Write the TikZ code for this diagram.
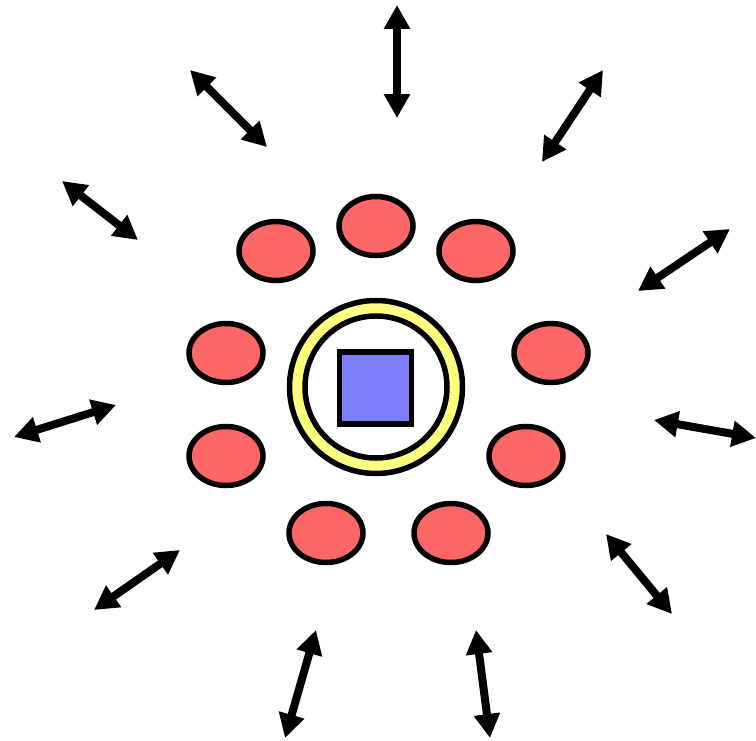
\documentclass[tikz,border=0pt]{standalone}
\usetikzlibrary{arrows.meta,shapes.geometric}
\definecolor{redfill}{HTML}{FF6666}
\definecolor{bluefill}{HTML}{8080FF}
\definecolor{yellowfill}{HTML}{FFFF80}
\begin{document}
\begin{tikzpicture}[x=1bp,y=-1bp,
  blob/.style={ellipse,draw=black,fill=redfill,line width=5.5bp,minimum width=74bp,minimum height=59bp,inner sep=0pt},
  ringout/.style={circle,draw=black,fill=yellowfill,line width=5.5bp,minimum size=173bp,inner sep=0pt},
  ringin/.style={circle,draw=black,fill=white,line width=5.5bp,minimum size=142bp,inner sep=0pt},
  core/.style={rectangle,draw=black,fill=bluefill,line width=5.5bp,minimum size=72bp,inner sep=0pt},
  dart/.style={line width=8bp,{Triangle[width=25bp,length=24bp]}-{Triangle[width=25bp,length=24bp]}}]
\useasboundingbox (0,0) rectangle (756,741);
\node[ringout] (ro) at (376,387) {};
\node[ringin] (ri) at (376,387) {};
\node[core] (sq) at (375.5,388) {};
\node[blob] (e1) at (376,226) {};
\node[blob] (e2) at (276,251) {};
\node[blob] (e3) at (476,251) {};
\node[blob] (e4) at (226,353) {};
\node[blob] (e5) at (551,353) {};
\node[blob] (e6) at (226,456) {};
\node[blob] (e7) at (526,456) {};
\node[blob] (e8) at (326,533) {};
\node[blob] (e9) at (451,533) {};
\coordinate (a1s) at (397,5);   \coordinate (a1e) at (397,118);
\coordinate (a2s) at (190,70);  \coordinate (a2e) at (267,147);
\coordinate (a3s) at (603,70);  \coordinate (a3e) at (542,162);
\coordinate (a4s) at (62,181);  \coordinate (a4e) at (138,240);
\coordinate (a5s) at (730,229); \coordinate (a5e) at (638,291);
\coordinate (a6s) at (14,437);  \coordinate (a6e) at (116,405);
\coordinate (a7s) at (654,420); \coordinate (a7e) at (756,438);
\coordinate (a8s) at (94,610);  \coordinate (a8e) at (180,550);
\coordinate (a9s) at (606,534); \coordinate (a9e) at (672,614);
\coordinate (a10s) at (316,630); \coordinate (a10e) at (285,738);
\coordinate (a11s) at (476,630); \coordinate (a11e) at (490,738);
\foreach \i in {1,...,11} {\draw[dart] (a\i s) -- (a\i e);}
\end{tikzpicture}
\end{document}
